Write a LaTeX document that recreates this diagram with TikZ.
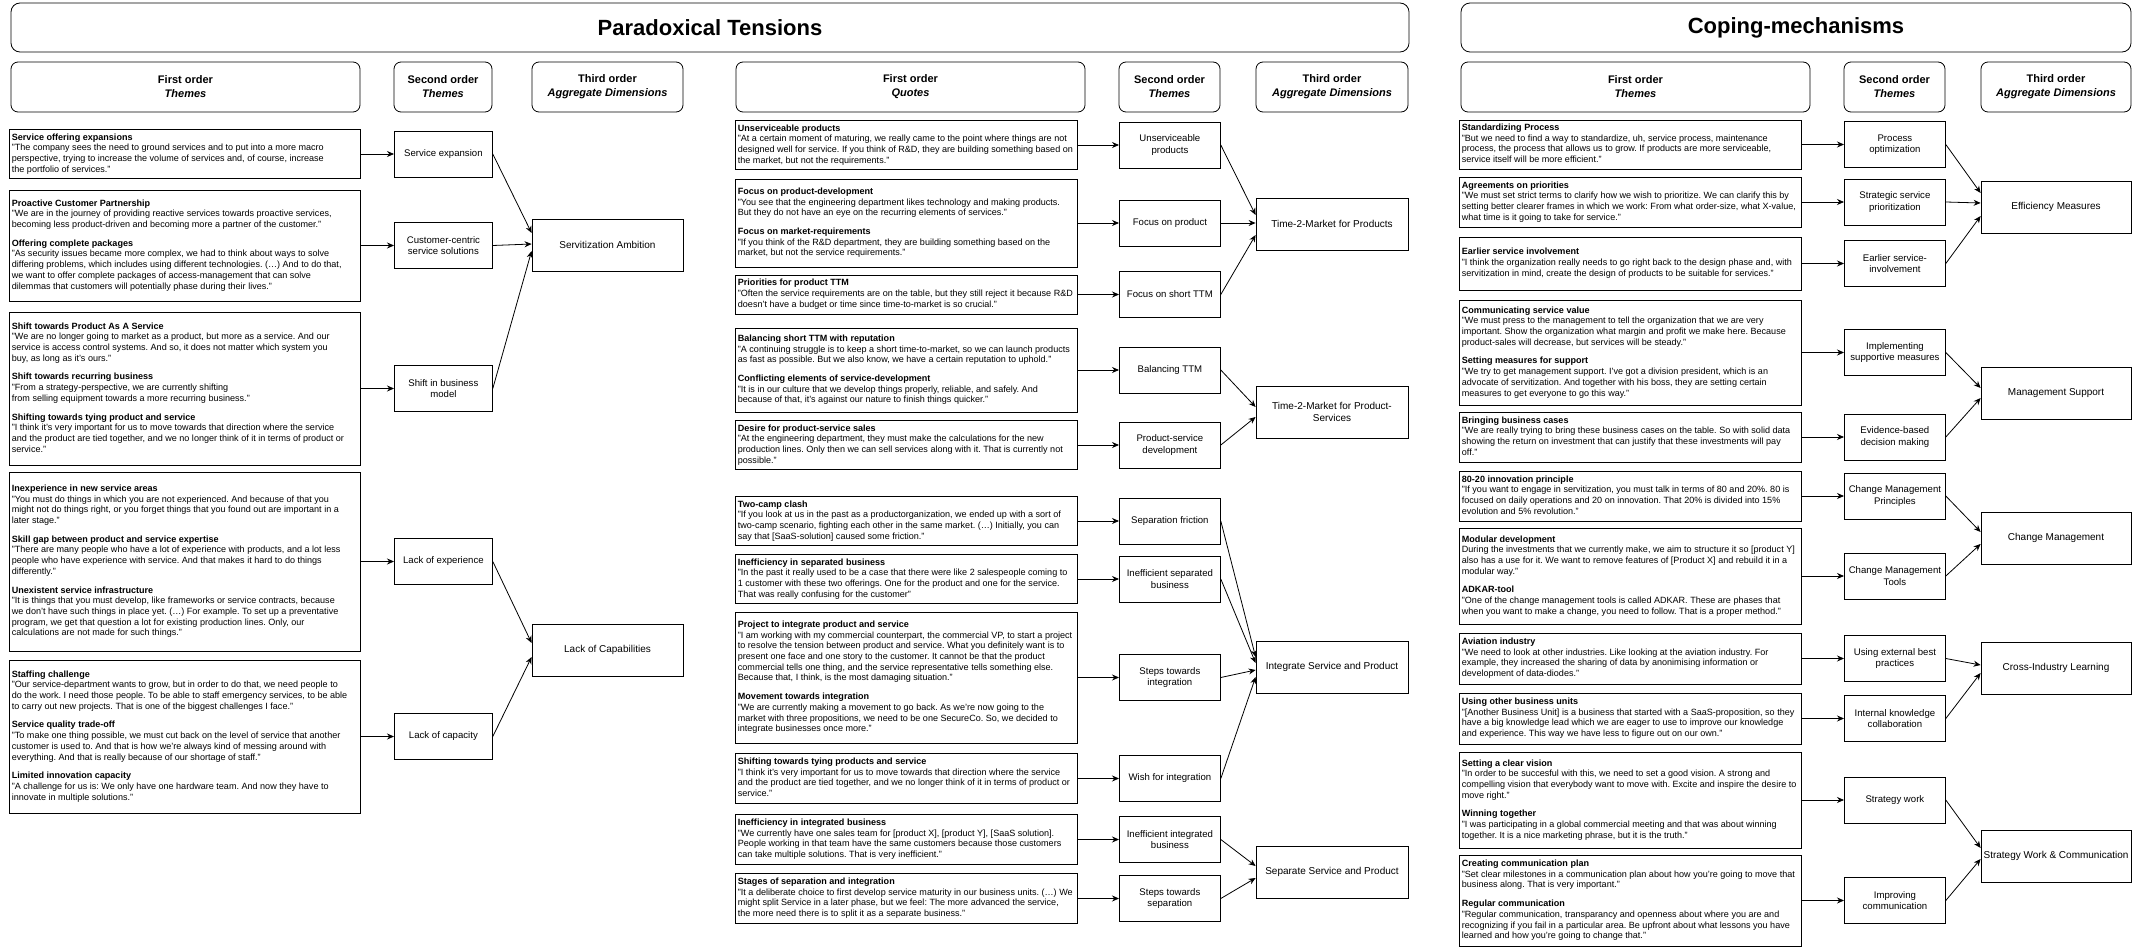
\documentclass[tikz,border=0pt]{standalone}
\usepackage{fontspec}
\setmainfont{Liberation Sans}
\usetikzlibrary{arrows.meta}
\frenchspacing
\newcommand{\qtext}[2]{\makebox[#1][l]{\begin{tabular}{@{}l@{}}#2\end{tabular}}}
\tikzset{
  quotebox/.style={draw, line width=0.8pt, anchor=west, inner xsep=2.5pt, inner ysep=3pt, font=\fontsize{9.05}{10.7}\selectfont},
  themebox/.style={draw, line width=0.8pt, anchor=west, align=center, inner sep=1pt, minimum height=46pt, font=\fontsize{9.6}{11.5}\selectfont},
  dimbox/.style={draw, line width=0.8pt, align=center, inner sep=2pt, minimum height=52pt, font=\fontsize{10}{12}\selectfont},
  hdrbox/.style={draw, line width=0.8pt, rounded corners=7pt, align=center, minimum height=50pt, font=\fontsize{11}{14}\selectfont\bfseries},
  titlebox/.style={draw, line width=0.8pt, rounded corners=9pt, minimum height=49pt, font=\fontsize{22}{26}\selectfont\bfseries},
  link/.style={line width=0.8pt, -{Stealth[length=7pt,width=6pt]}}
}
\begin{document}
\begin{tikzpicture}[x=1pt, y=-1pt]
\useasboundingbox (0,0) rectangle (2145,950);
\node[titlebox, minimum width=1398pt] (ptitle) at (710,27.5) {Paradoxical Tensions};
\node[titlebox, minimum width=670pt] (ctitle) at (1796,27.5) {Coping-mechanisms};
\node[hdrbox, minimum width=349pt] (h1) at (185.5,87) {First order\\\textit{Themes}};
\node[hdrbox, minimum width=98pt] (h2) at (443,87) {Second order\\\textit{Themes}};
\node[hdrbox, minimum width=151pt] (h3) at (607.5,87) {Third order\\\textit{Aggregate Dimensions}};
\node[hdrbox, minimum width=349pt] (h4) at (910.5,87) {First order\\\textit{Quotes}};
\node[hdrbox, minimum width=101pt] (h5) at (1169.5,87) {Second order\\\textit{Themes}};
\node[hdrbox, minimum width=152pt] (h6) at (1332,87) {Third order\\\textit{Aggregate Dimensions}};
\node[hdrbox, minimum width=349pt] (h7) at (1635.5,87) {First order\\\textit{Themes}};
\node[hdrbox, minimum width=101pt] (h8) at (1894.5,87) {Second order\\\textit{Themes}};
\node[hdrbox, minimum width=150pt] (h9) at (2056,87) {Third order\\\textit{Aggregate Dimensions}};
% Paradoxical tensions, left part
\node[quotebox, minimum height=48pt] (fo1) at (9,154) {\qtext{346pt}{\textbf{Service offering expansions}\\
"The company sees the need to ground services and to put into a more macro\\
perspective, trying to increase the volume of services and, of course, increase\\
the portfolio of services."}};
\node[quotebox, minimum height=111pt] (fo2) at (9,245.5) {\qtext{346pt}{\textbf{Proactive Customer Partnership}\\
"We are in the journey of providing reactive services towards proactive services,\\
becoming less product-driven and becoming more a partner of the customer."\\[8pt]
\textbf{Offering complete packages}\\
"As security issues became more complex, we had to think about ways to solve\\
differing problems, which includes using different technologies. (…) And to do that,\\
we want to offer complete packages of access-management that can solve\\
dilemmas that customers will potentially phase during their lives."}};
\node[quotebox, minimum height=153pt] (fo3) at (9,388.5) {\qtext{346pt}{\textbf{Shift towards Product As A Service}\\
"We are no longer going to market as a product, but more as a service. And our\\
service is access control systems. And so, it does not matter which system you\\
buy, as long as it's ours."\\[8pt]
\textbf{Shift towards recurring business}\\
"From a strategy-perspective, we are currently shifting\\
from selling equipment towards a more recurring business."\\[8pt]
\textbf{Shifting towards tying product and service}\\
"I think it's very important for us to move towards that direction where the service\\
and the product are tied together, and we no longer think of it in terms of product or\\
service."}};
\node[quotebox, minimum height=179pt] (fo4) at (9,561.5) {\qtext{346pt}{\textbf{Inexperience in new service areas}\\
"You must do things in which you are not experienced. And because of that you\\
might not do things right, or you forget things that you found out are important in a\\
later stage."\\[8pt]
\textbf{Skill gap between product and service expertise}\\
"There are many people who have a lot of experience with products, and a lot less\\
people who have experience with service. And that makes it hard to do things\\
differently."\\[8pt]
\textbf{Unexistent service infrastructure}\\
"It is things that you must develop, like frameworks or service contracts, because\\
we don't have such things in place yet. (…) For example. To set up a preventative\\
program, we get that question a lot for existing production lines. Only, our\\
calculations are not made for such things."}};
\node[quotebox, minimum height=153pt] (fo5) at (9,736.5) {\qtext{346pt}{\textbf{Staffing challenge}\\
"Our service-department wants to grow, but in order to do that, we need people to\\
do the work. I need those people. To be able to staff emergency services, to be able\\
to carry out new projects. That is one of the biggest challenges I face."\\[8pt]
\textbf{Service quality trade-off}\\
"To make one thing possible, we must cut back on the level of service that another\\
customer is used to. And that is how we're always kind of messing around with\\
everything. And that is really because of our shortage of staff."\\[8pt]
\textbf{Limited innovation capacity}\\
"A challenge for us is: We only have one hardware team. And now they have to\\
innovate in multiple solutions."}};
\node[themebox, minimum width=98pt] (so1) at (394,154) {Service expansion};
\node[themebox, minimum width=98pt] (so2) at (394,245.5) {Customer-centric\\service solutions};
\node[themebox, minimum width=98pt] (so3) at (394,388.5) {Shift in business\\model};
\node[themebox, minimum width=98pt] (so4) at (394,561.5) {Lack of experience};
\node[themebox, minimum width=98pt] (so5) at (394,736.5) {Lack of capacity};
\node[dimbox, minimum width=151pt] (ad1) at (607.5,245) {Servitization Ambition};
\node[dimbox, minimum width=151pt] (ad2) at (607.5,650) {Lack of Capabilities};
\draw[link] (fo1) -- (so1);
\draw[link] (fo2) -- (so2);
\draw[link] (fo3) -- (so3);
\draw[link] (fo4) -- (so4);
\draw[link] (fo5) -- (so5);
\draw[link] (so1.east) -- ([yshift=12pt]ad1.west);
\draw[link] (so2.east) -- ([yshift=1pt]ad1.west);
\draw[link] (so3.east) -- ([yshift=-6pt]ad1.west);
\draw[link] (so4.east) -- ([yshift=7pt]ad2.west);
\draw[link] (so5.east) -- ([yshift=-7pt]ad2.west);
% Paradoxical tensions, middle part
\node[quotebox, minimum height=48pt] (fo6) at (735,145) {\qtext{337pt}{\textbf{Unserviceable products}\\
"At a certain moment of maturing, we really came to the point where things are not\\
designed well for service. If you think of R\&D, they are building something based on\\
the market, but not the requirements."}};
\node[quotebox, minimum height=88pt] (fo7) at (735,223) {\qtext{337pt}{\textbf{Focus on product-development}\\
"You see that the engineering department likes technology and making products.\\
But they do not have an eye on the recurring elements of services."\\[8pt]
\textbf{Focus on market-requirements}\\
"If you think of the R\&D department, they are building something based on the\\
market, but not the service requirements."}};
\node[quotebox, minimum height=39pt] (fo8) at (735,294.5) {\qtext{337pt}{\textbf{Priorities for product TTM}\\
"Often the service requirements are on the table, but they still reject it because R\&D\\
doesn't have a budget or time since time-to-market is so crucial."}};
\node[quotebox, minimum height=84pt] (fo9) at (735,370) {\qtext{337pt}{\textbf{Balancing short TTM with reputation}\\
"A continuing struggle is to keep a short time-to-market, so we can launch products\\
as fast as possible. But we also know, we have a certain reputation to uphold."\\[8pt]
\textbf{Conflicting elements of service-development}\\
"It is in our culture that we develop things properly, reliable, and safely. And\\
because of that, it's against our nature to finish things quicker."}};
\node[quotebox, minimum height=49pt] (fo10) at (735,445) {\qtext{337pt}{\textbf{Desire for product-service sales}\\
"At the engineering department, they must make the calculations for the new\\
production lines. Only then we can sell services along with it. That is currently not\\
possible."}};
\node[quotebox, minimum height=48pt] (fo11) at (735,521) {\qtext{337pt}{\textbf{Two-camp clash}\\
"If you look at us in the past as a productorganization, we ended up with a sort of\\
two-camp scenario, fighting each other in the same market. (…) Initially, you can\\
say that [SaaS-solution] caused some friction."}};
\node[quotebox, minimum height=48pt] (fo12) at (735,579) {\qtext{337pt}{\textbf{Inefficiency in separated business}\\
"In the past it really used to be a case that there were like 2 salespeople coming to\\
1 customer with these two offerings. One for the product and one for the service.\\
That was really confusing for the customer"}};
\node[quotebox, minimum height=131pt] (fo13) at (735,677.5) {\qtext{337pt}{\textbf{Project to integrate product and service}\\
"I am working with my commercial counterpart, the commercial VP, to start a project\\
to resolve the tension between product and service. What you definitely want is to\\
present one face and one story to the customer. It cannot be that the product\\
commercial tells one thing, and the service representative tells something else.\\
Because that, I think, is the most damaging situation."\\[8pt]
\textbf{Movement towards integration}\\
"We are currently making a movement to go back. As we're now going to the\\
market with three propositions, we need to be one SecureCo. So, we decided to\\
integrate businesses once more."}};
\node[quotebox, minimum height=50pt] (fo14) at (735,778.5) {\qtext{337pt}{\textbf{Shifting towards tying products and service}\\
"I think it's very important for us to move towards that direction where the service\\
and the product are tied together, and we no longer think of it in terms of product or\\
service."}};
\node[quotebox, minimum height=50pt] (fo15) at (735,839.5) {\qtext{337pt}{\textbf{Inefficiency in integrated business}\\
"We currently have one sales team for [product X], [product Y], [SaaS solution].\\
People working in that team have the same customers because those customers\\
can take multiple solutions. That is very inefficient."}};
\node[quotebox, minimum height=50pt] (fo16) at (735,898.5) {\qtext{337pt}{\textbf{Stages of separation and integration}\\
"It a deliberate choice to first develop service maturity in our business units. (…) We\\
might split Service in a later phase, but we feel: The more advanced the service,\\
the more need there is to split it as a separate business."}};
\node[themebox, minimum width=101pt] (so6) at (1119,145) {Unserviceable\\products};
\node[themebox, minimum width=101pt] (so7) at (1119,223) {Focus on product};
\node[themebox, minimum width=101pt] (so8) at (1119,294.5) {Focus on short TTM};
\node[themebox, minimum width=101pt] (so9) at (1119,370) {Balancing TTM};
\node[themebox, minimum width=101pt] (so10) at (1119,445) {Product-service\\development};
\node[themebox, minimum width=101pt] (so11) at (1119,521) {Separation friction};
\node[themebox, minimum width=101pt] (so12) at (1119,579) {Inefficient separated\\business};
\node[themebox, minimum width=101pt] (so13) at (1119,677.5) {Steps towards\\integration};
\node[themebox, minimum width=101pt] (so14) at (1119,778.5) {Wish for integration};
\node[themebox, minimum width=101pt] (so15) at (1119,839.5) {Inefficient integrated\\business};
\node[themebox, minimum width=101pt] (so16) at (1119,898.5) {Steps towards\\separation};
\node[dimbox, minimum width=152pt] (ad3) at (1332,224) {Time-2-Market for Products};
\node[dimbox, minimum width=152pt] (ad4) at (1332,412) {Time-2-Market for Product-\\Services};
\node[dimbox, minimum width=152pt] (ad5) at (1332,667) {Integrate Service and Product};
\node[dimbox, minimum width=152pt] (ad6) at (1332,872) {Separate Service and Product};
\draw[link] (fo6) -- (so6);
\draw[link] (fo7) -- (so7);
\draw[link] (fo8) -- (so8);
\draw[link] (fo9) -- (so9);
\draw[link] (fo10) -- (so10);
\draw[link] (fo11) -- (so11);
\draw[link] (fo12) -- (so12);
\draw[link] (fo13) -- (so13);
\draw[link] (fo14) -- (so14);
\draw[link] (fo15) -- (so15);
\draw[link] (fo16) -- (so16);
\draw[link] (so6.east) -- ([yshift=9pt]ad3.west);
\draw[link] (so7.east) -- ([yshift=1pt]ad3.west);
\draw[link] (so8.east) -- ([yshift=-11pt]ad3.west);
\draw[link] (so9.east) -- ([yshift=5pt]ad4.west);
\draw[link] (so10.east) -- ([yshift=-5pt]ad4.west);
\draw[link] (so11.east) -- ([yshift=10pt]ad5.west);
\draw[link] (so12.east) -- ([yshift=4pt]ad5.west);
\draw[link] (so13.east) -- ([yshift=-3pt]ad5.west);
\draw[link] (so14.east) -- ([yshift=-10pt]ad5.west);
\draw[link] (so15.east) -- ([yshift=6pt]ad6.west);
\draw[link] (so16.east) -- ([yshift=-6pt]ad6.west);
% Coping-mechanisms
\node[quotebox, minimum height=49pt] (fo17) at (1459,144.5) {\qtext{337pt}{\textbf{Standardizing Process}\\
"But we need to find a way to standardize, uh, service process, maintenance\\
process, the process that allows us to grow. If products are more serviceable,\\
service itself will be more efficient."}};
\node[quotebox, minimum height=50pt] (fo18) at (1459,202) {\qtext{337pt}{\textbf{Agreements on priorities}\\
"We must set strict terms to clarify how we wish to prioritize. We can clarify this by\\
setting better clearer frames in which we work: From what order-size, what X-value,\\
what time is it going to take for service."}};
\node[quotebox, minimum height=53pt] (fo19) at (1459,263.5) {\qtext{337pt}{\textbf{Earlier service involvement}\\
"I think the organization really needs to go right back to the design phase and, with\\
servitization in mind, create the design of products to be suitable for services."}};
\node[quotebox, minimum height=105pt] (fo20) at (1459,352.5) {\qtext{337pt}{\textbf{Communicating service value}\\
"We must press to the management to tell the organization that we are very\\
important. Show the organization what margin and profit we make here. Because\\
product-sales will decrease, but services will be steady."\\[8pt]
\textbf{Setting measures for support}\\
"We try to get management support. I've got a division president, which is an\\
advocate of servitization. And together with his boss, they are setting certain\\
measures to get everyone to go this way."}};
\node[quotebox, minimum height=50pt] (fo21) at (1459,437) {\qtext{337pt}{\textbf{Bringing business cases}\\
"We are really trying to bring these business cases on the table. So with solid data\\
showing the return on investment that can justify that these investments will pay\\
off."}};
\node[quotebox, minimum height=50pt] (fo22) at (1459,496) {\qtext{337pt}{\textbf{80-20 innovation principle}\\
"If you want to engage in servitization, you must talk in terms of 80 and 20\%. 80 is\\
focused on daily operations and 20 on innovation. That 20\% is divided into 15\%\\
evolution and 5\% revolution."}};
\node[quotebox, minimum height=96pt] (fo23) at (1459,576) {\qtext{337pt}{\textbf{Modular development}\\
During the investments that we currently make, we aim to structure it so [product Y]\\
also has a use for it. We want to remove features of [Product X] and rebuild it in a\\
modular way."\\[8pt]
\textbf{ADKAR-tool}\\
"One of the change management tools is called ADKAR. These are phases that\\
when you want to make a change, you need to follow. That is a proper method."}};
\node[quotebox, minimum height=51pt] (fo24) at (1459,658.5) {\qtext{337pt}{\textbf{Aviation industry}\\
"We need to look at other industries. Like looking at the aviation industry. For\\
example, they increased the sharing of data by anonimising information or\\
development of data-diodes."}};
\node[quotebox, minimum height=51pt] (fo25) at (1459,718.5) {\qtext{337pt}{\textbf{Using other business units}\\
"[Another Business Unit] is a business that started with a SaaS-proposition, so they\\
have a big knowledge lead which we are eager to use to improve our knowledge\\
and experience. This way we have less to figure out on our own."}};
\node[quotebox, minimum height=96pt] (fo26) at (1459,800) {\qtext{337pt}{\textbf{Setting a clear vision}\\
"In order to be succesful with this, we need to set a good vision. A strong and\\
compelling vision that everybody want to move with. Excite and inspire the desire to\\
move right."\\[8pt]
\textbf{Winning together}\\
"I was participating in a global commercial meeting and that was about winning\\
together. It is a nice marketing phrase, but it is the truth."}};
\node[quotebox, minimum height=91pt] (fo27) at (1459,900.5) {\qtext{337pt}{\textbf{Creating communication plan}\\
"Set clear milestones in a communication plan about how you're going to move that\\
business along. That is very important."\\[8pt]
\textbf{Regular communication}\\
"Regular communication, transparancy and openness about where you are and\\
recognizing if you fail in a particular area. Be upfront about what lessons you have\\
learned and how you're going to change that."}};
\node[themebox, minimum width=101pt] (so17) at (1844,144.5) {Process\\optimization};
\node[themebox, minimum width=101pt] (so18) at (1844,202) {Strategic service\\prioritization};
\node[themebox, minimum width=101pt] (so19) at (1844,263.5) {Earlier service-\\involvement};
\node[themebox, minimum width=101pt] (so20) at (1844,352.5) {Implementing\\supportive measures};
\node[themebox, minimum width=101pt] (so21) at (1844,437) {Evidence-based\\decision making};
\node[themebox, minimum width=101pt] (so22) at (1844,496) {Change Management\\Principles};
\node[themebox, minimum width=101pt] (so23) at (1844,576) {Change Management\\Tools};
\node[themebox, minimum width=101pt] (so24) at (1844,658.5) {Using external best\\practices};
\node[themebox, minimum width=101pt] (so25) at (1844,718.5) {Internal knowledge\\collaboration};
\node[themebox, minimum width=101pt] (so26) at (1844,800) {Strategy work};
\node[themebox, minimum width=101pt] (so27) at (1844,900.5) {Improving\\communication};
\node[dimbox, minimum width=150pt] (ad7) at (2056,207) {Efficiency Measures};
\node[dimbox, minimum width=150pt] (ad8) at (2056,393) {Management Support};
\node[dimbox, minimum width=150pt] (ad9) at (2056,538) {Change Management};
\node[dimbox, minimum width=150pt] (ad10) at (2056,668) {Cross-Industry Learning};
\node[dimbox, minimum width=150pt] (ad11) at (2056,856) {Strategy Work \& Communication};
\draw[link] (fo17) -- (so17);
\draw[link] (fo18) -- (so18);
\draw[link] (fo19) -- (so19);
\draw[link] (fo20) -- (so20);
\draw[link] (fo21) -- (so21);
\draw[link] (fo22) -- (so22);
\draw[link] (fo23) -- (so23);
\draw[link] (fo24) -- (so24);
\draw[link] (fo25) -- (so25);
\draw[link] (fo26) -- (so26);
\draw[link] (fo27) -- (so27);
\draw[link] (so17.east) -- ([yshift=14pt]ad7.west);
\draw[link] (so18.east) -- ([yshift=4pt]ad7.west);
\draw[link] (so19.east) -- ([yshift=-9pt]ad7.west);
\draw[link] (so20.east) -- ([yshift=5pt]ad8.west);
\draw[link] (so21.east) -- ([yshift=-5pt]ad8.west);
\draw[link] (so22.east) -- ([yshift=6pt]ad9.west);
\draw[link] (so23.east) -- ([yshift=-6pt]ad9.west);
\draw[link] (so24.east) -- ([yshift=3pt]ad10.west);
\draw[link] (so25.east) -- ([yshift=-5pt]ad10.west);
\draw[link] (so26.east) -- ([yshift=8pt]ad11.west);
\draw[link] (so27.east) -- ([yshift=-3pt]ad11.west);
\end{tikzpicture}
\end{document}
